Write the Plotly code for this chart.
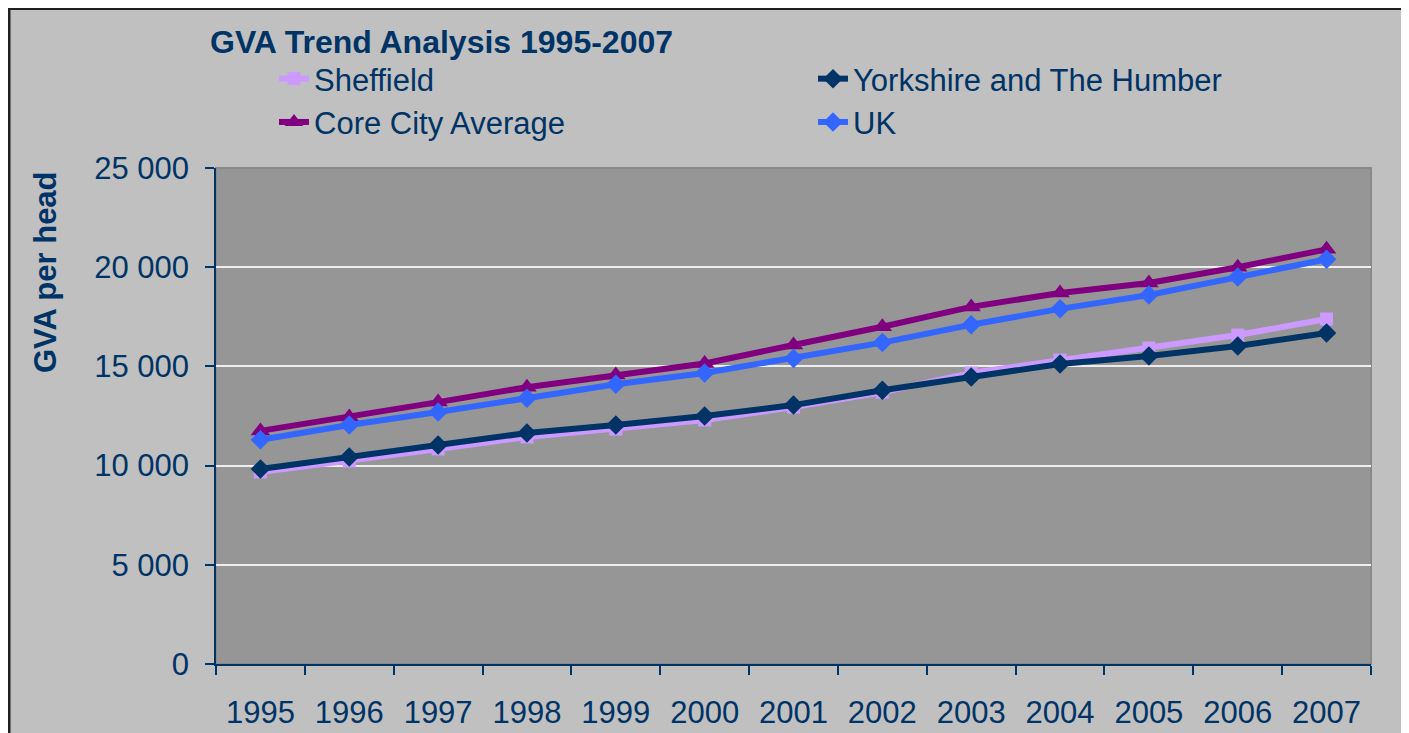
import plotly.graph_objects as go

# GVA per head, 1995-2007
years = ["1995", "1996", "1997", "1998", "1999", "2000", "2001",
         "2002", "2003", "2004", "2005", "2006", "2007"]
sheffield = [9680, 10230, 10840, 11440, 11840, 12300, 12950,
             13700, 14670, 15320, 15930, 16580, 17390]
yorkshire = [9830, 10430, 11040, 11640, 12050, 12500, 13050,
             13800, 14470, 15120, 15520, 16030, 16680]
core_city = [11750, 12450, 13200, 13950, 14570, 15150, 16080,
             17000, 18000, 18700, 19200, 20000, 20900]
uk = [11300, 12050, 12700, 13400, 14100, 14670, 15400,
      16200, 17100, 17900, 18600, 19500, 20400]

NAVY = "#003366"
W, H = 1409, 733
# page is drawn with an 8px body margin, so positions are in figure pixels
L, R, T, B = 208, 1363, 160, 656


def px(x):
    return (x - L) / (R - L)


def py(y):
    return (B - y) / (B - T)


series = [
    ("Sheffield", sheffield, "#CC99FF", "square", 13),
    ("Yorkshire and The Humber", yorkshire, NAVY, "diamond", 15),
    ("Core City Average", core_city, "#800080", "triangle-up", 17),
    ("UK", uk, "#3366FF", "diamond", 15),
]

fig = go.Figure()
for name, vals, col, sym, size in series:
    fig.add_trace(go.Scatter(
        x=years, y=vals, name=name, mode="lines+markers",
        line=dict(color=col, width=6),
        marker=dict(symbol=sym, size=size, color=col),
    ))

# chart area background with border, then plot area
fig.add_shape(type="rect", xref="paper", yref="paper",
              x0=px(1), x1=px(1440), y0=py(760), y1=py(0.5),
              fillcolor="#C0C0C0", line=dict(color="#202020", width=3),
              layer="below")
fig.add_shape(type="rect", xref="paper", yref="paper",
              x0=0, x1=1, y0=0, y1=1,
              fillcolor="#969696", line=dict(color="#8A8A8A", width=2),
              layer="below")

fig.add_annotation(text="<b>GVA per head</b>", textangle=-90,
                   xref="paper", yref="paper", x=px(37), y=py(264),
                   xanchor="center", yanchor="middle",
                   showarrow=False,
                   font=dict(family="Liberation Sans, Arial", size=31, color=NAVY))

fig.update_layout(
    width=W, height=H,
    margin=dict(l=L, r=W - R, t=T, b=H - B),
    paper_bgcolor="white",
    plot_bgcolor="rgba(0,0,0,0)",
    separators=". ",
    font=dict(family="Liberation Sans, Arial", color=NAVY),
    title=dict(text="<b>GVA Trend Analysis 1995-2007</b>",
               xref="container", yref="container",
               x=202 / W, xanchor="left", y=1 - 34 / H, yanchor="middle",
               font=dict(size=32, color=NAVY)),
    legend=dict(orientation="h", x=px(266), xanchor="left",
                y=py(44), yanchor="top", entrywidth=494,
                bgcolor="rgba(0,0,0,0)", traceorder="normal",
                font=dict(size=31, color=NAVY)),
    xaxis=dict(type="category", range=[-0.5, len(years) - 0.5],
               showgrid=False, tickson="boundaries",
               ticks="outside", ticklen=9, tickcolor=NAVY, tickwidth=1.5,
               showline=True, linecolor=NAVY, linewidth=1.5,
               ticklabelstandoff=20,
               tickfont=dict(size=31, color=NAVY)),
    yaxis=dict(range=[0, 25000], dtick=5000, tickformat=",d",
               showgrid=True, gridcolor="#EEEEEE", gridwidth=1.5,
               zeroline=False,
               ticks="outside", ticklen=9, tickcolor=NAVY, tickwidth=1.5,
               showline=True, linecolor=NAVY, linewidth=1.5,
               ticklabelstandoff=10,
               tickfont=dict(size=31, color=NAVY)),
)

fig.write_html("out.html")
